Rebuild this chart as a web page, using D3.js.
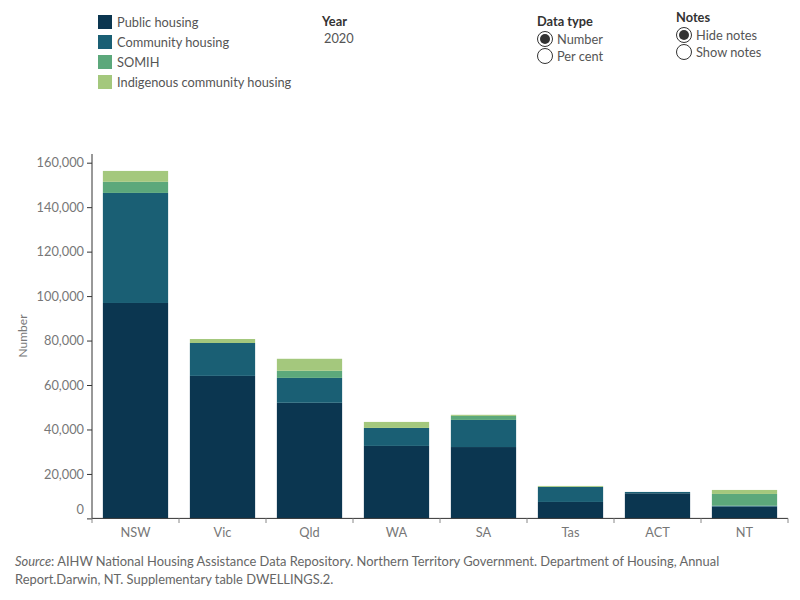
<!DOCTYPE html>
<html><head><meta charset="utf-8">
<script src="https://cdn.jsdelivr.net/npm/d3@7"></script>
<style>body{margin:0;background:#fff}svg{display:block}</style>
</head><body>
<svg id="c" width="800" height="600"></svg>
<script>
const categories = ["NSW","Vic","Qld","WA","SA","Tas","ACT","NT"];
const seriesNames = ["Public housing","Community housing","SOMIH","Indigenous community housing"];
const publicHousing   = [96900, 64100, 52000, 32600, 32100, 7400, 11300, 5300];
const communityHousing= [49500, 14800, 11200, 8100, 12200, 6800, 600, 400];
const somih           = [5000, 0, 3200, 0, 1800, 0, 0, 5300];
const indigenousCH    = [4900, 1800, 5400, 2700, 500, 400, 0, 1800];
const colors = ["#0b3650","#1a5f74","#5ca87b","#a4c87d"];
const yTicks = [0,20000,40000,60000,80000,100000,120000,140000,160000];

const svg = d3.select("#c");
const font = "Lato, 'Open Sans', sans-serif";

const x = d3.scaleBand().domain(categories).range([92, 788]).paddingInner(0.25).paddingOuter(0.125);
const y = d3.scaleLinear().domain([0,160000]).range([518.4,162.7]);

const rows = categories.map((c,i)=>({cat:c, s0:publicHousing[i], s1:communityHousing[i], s2:somih[i], s3:indigenousCH[i]}));
const stack = d3.stack().keys(["s0","s1","s2","s3"])(rows);

svg.append("g").selectAll("g").data(stack).join("g")
  .attr("fill",(d,i)=>colors[i])
  .selectAll("rect").data(d=>d).join("rect")
  .attr("x",d=>x(d.data.cat))
  .attr("width",x.bandwidth())
  .attr("y",d=>y(d[1]))
  .attr("height",d=>Math.max(0,y(d[0])-y(d[1])));

// Y axis
const ya = svg.append("g").attr("transform","translate(92,0)")
  .call(d3.axisLeft(y).tickValues(yTicks).tickFormat(d3.format(",")).tickSize(5).tickSizeOuter(0));
ya.select(".domain").attr("stroke","#333").attr("d","M0,154V518.4");
ya.selectAll(".tick line").attr("stroke","#333");
ya.selectAll(".tick text").attr("font-family",font).attr("font-size",12.8).attr("fill","#777")
  .attr("dy",(d)=> d===0 ? "-0.4em" : "0.32em");

// X axis
const xa = svg.append("g").attr("transform","translate(0,518.4)")
  .call(d3.axisBottom(x).tickSize(0));
xa.select(".domain").attr("stroke","#333").attr("d","M92,0H788");
xa.selectAll(".tick text").attr("font-family",font).attr("font-size",12.8).attr("fill","#777").attr("dy","1.2em");
const seps = categories.map((c)=>x(c)-x.step()*x.paddingInner()/2).concat([788]);
svg.append("g").selectAll("line").data(seps).join("line")
  .attr("x1",d=>d).attr("x2",d=>d).attr("y1",518.4).attr("y2",523).attr("stroke","#888");

svg.append("text").attr("transform","translate(27,336) rotate(-90)").attr("text-anchor","middle")
  .attr("font-family",font).attr("font-size",12).attr("fill","#777").text("Number");

// Legend
const lg = svg.append("g");
seriesNames.forEach((n,i)=>{
  lg.append("rect").attr("x",98).attr("y",15+i*20).attr("width",14).attr("height",14).attr("fill",colors[i]);
  lg.append("text").attr("x",117).attr("y",27+i*20).attr("font-family",font).attr("font-size",12.8).attr("fill","#555").text(n);
});

svg.append("text").attr("x",322).attr("y",26).attr("font-family",font).attr("font-size",12.8).attr("font-weight","bold").attr("fill","#333").text("Year");
svg.append("text").attr("x",324).attr("y",43).attr("font-family",font).attr("font-size",12.8).attr("fill","#555").text("2020");

function radio(xc, yc, label, checked){
  svg.append("circle").attr("cx",xc).attr("cy",yc).attr("r",7.5).attr("fill","#fff").attr("stroke","#333").attr("stroke-width",1);
  if(checked) svg.append("circle").attr("cx",xc).attr("cy",yc).attr("r",5).attr("fill","#333");
  svg.append("text").attr("x",xc+12).attr("y",yc+4.5).attr("font-family",font).attr("font-size",12.8).attr("fill","#555").text(label);
}
svg.append("text").attr("x",537).attr("y",26).attr("font-family",font).attr("font-size",12.8).attr("font-weight","bold").attr("fill","#333").text("Data type");
radio(545,39,"Number",true);
radio(545,56,"Per cent",false);
svg.append("text").attr("x",676).attr("y",22).attr("font-family",font).attr("font-size",12.8).attr("font-weight","bold").attr("fill","#333").text("Notes");
radio(684,35,"Hide notes",true);
radio(684,52,"Show notes",false);

const srcFont = "'Liberation Sans Narrow', Lato, sans-serif";
const src = svg.append("text").attr("x",15).attr("y",566).attr("font-family",srcFont).attr("font-size",12.9).attr("fill","#666");
src.append("tspan").attr("font-style","italic").text("Source");
src.append("tspan").text(": AIHW National Housing Assistance Data Repository. Northern Territory Government. Department of Housing, Annual");
svg.append("text").attr("x",15).attr("y",584).attr("font-family",srcFont).attr("font-size",12.9).attr("fill","#666")
  .text("Report.Darwin, NT. Supplementary table DWELLINGS.2.");
</script>
</body></html>
